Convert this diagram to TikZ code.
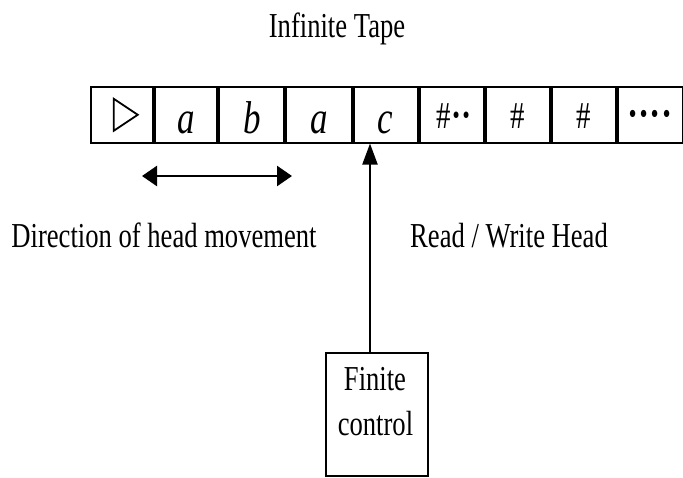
\documentclass[tikz,border=0pt]{standalone}
\usepackage{fontspec}
\setmainfont{Liberation Serif}[FakeStretch=0.76]
\usetikzlibrary{arrows.meta}
\begin{document}
\begin{tikzpicture}[x=1pt,y=-1pt,
  cell/.style={draw, line width=1.5pt, inner sep=0pt, anchor=north west},
  sepline/.style={line width=3.5pt},
  lbl/.style={font=\fontsize{35}{42}\selectfont, inner sep=0pt, anchor=base},
  sym/.style={font=\fontsize{46}{50}\selectfont\itshape, inner sep=0pt, anchor=base},
  hsh/.style={font=\fontsize{38}{44}\selectfont, inner sep=0pt, anchor=base},
  dotted/.style={font=\fontsize{44}{50}\selectfont\bfseries, inner sep=0pt, anchor=base},
  ctrlbox/.style={draw, line width=1.5pt, inner sep=0pt, anchor=north west},
]
\useasboundingbox (0,0) rectangle (683,477);

% tape cells
\foreach \i/\xa/\xb in {0/90/154,1/154/218,2/218/285,3/285/353,4/353/419,5/419/485,6/485/551,7/551/617,8/617/682}
  \node[cell, minimum width={\xb-\xa}, minimum height=56] (c\i) at (\xa,86) {};
\foreach \i in {1,...,8}
  \draw[sepline] (c\i.north west) -- (c\i.south west);

% left-end marker
\draw[line width=1.8pt, line join=miter]
  ([shift={(-9,-16)}]c0.center) -- ([shift={(15,0)}]c0.center) -- ([shift={(-9,16)}]c0.center) -- cycle;

% cell symbols
\node[sym] (s1) at (186,133) {a};
\node[sym] (s2) at (252,133) {b};
\node[sym] (s3) at (319,133) {a};
\node[sym] (s4) at (385,133) {c};
\node[hsh] (s5) at (454,128) {\#\textbf{\fontsize{40}{44}\selectfont ··}};
\node[hsh] (s6) at (518,128) {\#};
\node[hsh] (s7) at (584,128) {\#};
\node[dotted] (s8) at (650,128) {····};

% labels
\node[lbl] (title) at (337,37) {Infinite Tape};
\node[lbl] (dir) at (164,247) {Direction of head movement};
\node[lbl] (rw) at (509,247) {Read / Write Head};

% finite control
\node[ctrlbox, minimum width=102, minimum height=123] (fc) at (325,352) {};
\node[lbl] (fc1) at (375,390) {Finite};
\node[lbl] (fc2) at (375.5,435) {control};

% direction arrow
\coordinate (dl) at (142,176);
\coordinate (dr) at (292,176);
\draw[line width=2.5pt, {Triangle[length=15pt,width=20pt]}-{Triangle[length=15pt,width=20pt]}] (dl) -- (dr);

% head arrow
\coordinate (hx) at (370,0);
\draw[line width=2pt, -{Triangle[length=21pt,width=15pt]}] (fc.north -| hx) -- (c4.south -| hx);
\end{tikzpicture}
\end{document}
